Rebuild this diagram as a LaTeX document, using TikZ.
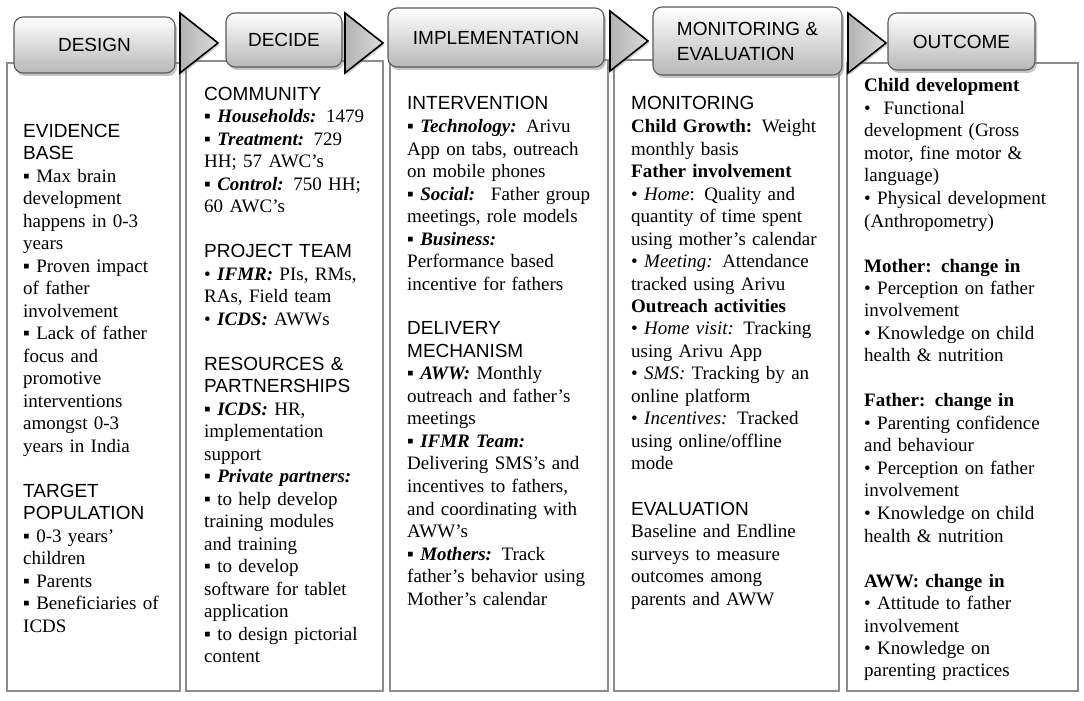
\documentclass[tikz,border=0pt]{standalone}
\usepackage{fontspec}
\setmainfont{Liberation Serif}
\setsansfont{Liberation Sans}
\usetikzlibrary{shapes.geometric,shadows}
\newcommand{\bfit}[1]{\textbf{\textit{#1}}}
\newcommand{\sqb}{▪}
\newcommand{\secthead}[1]{\textsf{#1}}

\begin{document}
\begin{tikzpicture}[x=1pt, y=-1pt,
  colbox/.style={draw=black!45, line width=1.6pt, fill=white, anchor=north west, inner sep=0pt, outer sep=0pt},
  stagehead/.style={draw=black!65, line width=1.1pt, rounded corners=9pt, top color=white, bottom color=black!28,
    drop shadow={shadow xshift=2pt, shadow yshift=-3pt, opacity=0.45}, font=\sffamily\fontsize{19}{25}\selectfont, align=left},
  chevron/.style={isosceles triangle, isosceles triangle stretches, minimum width=60pt, minimum height=38pt,
    inner sep=0pt, outer sep=0pt, draw=black, line width=1.6pt, left color=black!30, right color=black!14, anchor=apex,
    drop shadow={shadow xshift=1.5pt, shadow yshift=-2pt, opacity=0.35}},
  coltext/.style={anchor=base west, inner sep=0pt, text width=225pt, align=left, font=\fontsize{19}{22.5}\selectfont}]
  \useasboundingbox (0,0) rectangle (1084,701);

  \node[colbox, minimum width=173pt, minimum height=628pt] (designcol) at (7,63) {};
  \node[colbox, minimum width=197pt, minimum height=630pt] (decidecol) at (186,61) {};
  \node[colbox, minimum width=218pt, minimum height=631pt] (implcol) at (390,60) {};
  \node[colbox, minimum width=225pt, minimum height=631pt] (moncol) at (614,60) {};
  \node[colbox, minimum width=231pt, minimum height=628pt] (outcol) at (847,63) {};

  \node[stagehead, minimum width=161pt, minimum height=56pt] (design) at (94.5,45) {DESIGN};
  \node[stagehead, minimum width=116pt, minimum height=54pt] (decide) at (284,40) {DECIDE};
  \node[stagehead, minimum width=216pt, minimum height=59pt] (impl) at (496,37.5) {IMPLEMENTATION};
  \node[stagehead, minimum width=189pt, minimum height=68pt] (mon) at (747.5,41) {MONITORING \&\\EVALUATION};
  \node[stagehead, minimum width=147pt, minimum height=57pt] (outcome) at (961.5,41.5) {OUTCOME};

  \node[chevron] (arr1) at (218,43) {};
  \node[chevron] (arr2) at (383,43) {};
  \node[chevron] (arr3) at (648,41) {};
  \node[chevron] (arr4) at (886,43) {};

  \node[coltext] (designtxt) at (23,137) {\secthead{EVIDENCE}\\
    \secthead{BASE}\\
    \sqb{} Max brain\\
    development\\
    happens in 0-3\\
    years\\
    \sqb{} Proven impact\\
    of father\\
    involvement\\
    \sqb{} Lack of father\\
    focus and\\
    promotive\\
    interventions\\
    amongst 0-3\\
    years in India\\[\baselineskip]
    \secthead{TARGET}\\
    \secthead{POPULATION}\\
    \sqb{} 0-3 years’\\
    children\\
    \sqb{} Parents\\
    \sqb{} Beneficiaries of\\
    ICDS};

  \node[coltext] (decidetxt) at (204,100) {\secthead{COMMUNITY}\\
    \sqb{} \bfit{Households:} 1479\\
    \sqb{} \bfit{Treatment:} 729\\
    HH; 57 AWC’s\\
    \sqb{} \bfit{Control:} 750 HH;\\
    60 AWC’s\\[\baselineskip]
    \secthead{PROJECT TEAM}\\
    • \bfit{IFMR:} PIs, RMs,\\
    RAs, Field team\\
    • \bfit{ICDS:} AWWs\\[\baselineskip]
    \secthead{RESOURCES \&}\\
    \secthead{PARTNERSHIPS}\\
    \sqb{} \bfit{ICDS:} HR,\\
    implementation\\
    support\\
    \sqb{} \bfit{Private partners:}\\
    \sqb{} to help develop\\
    training modules\\
    and training\\
    \sqb{} to develop\\
    software for tablet\\
    application\\
    \sqb{} to design pictorial\\
    content};

  \node[coltext] (impltxt) at (407,110) {\secthead{INTERVENTION}\\
    \sqb{} \bfit{Technology:} Arivu\\
    App on tabs, outreach\\
    on mobile phones\\
    \sqb{} \bfit{Social:}~ Father group\\
    meetings, role models\\
    \sqb{} \bfit{Business:}\\
    Performance based\\
    incentive for fathers\\[\baselineskip]
    \secthead{DELIVERY}\\
    \secthead{MECHANISM}\\
    \sqb{} \bfit{AWW:} Monthly\\
    outreach and father’s\\
    meetings\\
    \sqb{} \bfit{IFMR Team:}\\
    Delivering SMS’s and\\
    incentives to fathers,\\
    and coordinating with\\
    AWW’s\\
    \sqb{} \bfit{Mothers:} Track\\
    father’s behavior using\\
    Mother’s calendar};

  \node[coltext] (montxt) at (631,110) {\secthead{MONITORING}\\
    \textbf{Child Growth:} Weight\\
    monthly basis\\
    \textbf{Father involvement}\\
    • \textit{Home}: Quality and\\
    quantity of time spent\\
    using mother’s calendar\\
    • \textit{Meeting:} Attendance\\
    tracked using Arivu\\
    \textbf{Outreach activities}\\
    • \textit{Home visit:} Tracking\\
    using Arivu App\\
    • \textit{SMS:} Tracking by an\\
    online platform\\
    • \textit{Incentives:} Tracked\\
    using online/offline\\
    mode\\[\baselineskip]
    \secthead{EVALUATION}\\
    Baseline and Endline\\
    surveys to measure\\
    outcomes among\\
    parents and AWW};

  \node[coltext] (outtxt) at (864,92) {\textbf{Child development}\\
    •~ Functional\\
    development (Gross\\
    motor, fine motor \&\\
    language)\\
    • Physical development\\
    (Anthropometry)\\[\baselineskip]
    \textbf{Mother: change in}\\
    • Perception on father\\
    involvement\\
    • Knowledge on child\\
    health \& nutrition\\[\baselineskip]
    \textbf{Father: change in}\\
    • Parenting confidence\\
    and behaviour\\
    • Perception on father\\
    involvement\\
    • Knowledge on child\\
    health \& nutrition\\[\baselineskip]
    \textbf{AWW: change in}\\
    • Attitude to father\\
    involvement\\
    • Knowledge on\\
    parenting practices};
\end{tikzpicture}
\end{document}
